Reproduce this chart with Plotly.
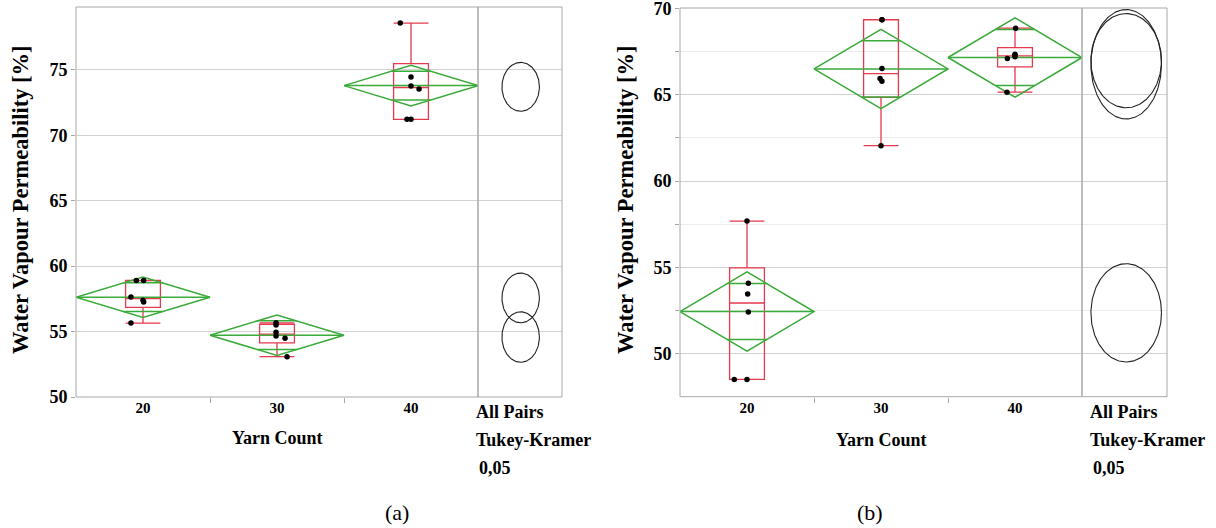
import numpy as np
import plotly.graph_objects as go

# ---------------- data ----------------
yarn_counts = [20, 30, 40]
tick_labels = ["20", "30", "40"]

# panel (a) individual observations per yarn count
a_20 = [58.9, 58.9, 57.65, 57.4, 57.25, 55.65]
a_30 = [55.67, 55.5, 54.94, 54.66, 54.48, 53.08]
a_40 = [78.57, 74.45, 73.77, 73.53, 71.22, 71.22]
# panel (b)
b_20 = [57.68, 54.07, 53.45, 52.41, 48.5, 48.5]
b_30 = [69.35, 69.35, 66.52, 65.94, 65.78, 62.05]
b_40 = [68.86, 67.35, 67.3, 67.2, 67.1, 65.15]

# 95% CI half-widths of the means (mean diamonds)
ci_half_a = [1.55, 1.55, 1.55]
ci_half_b = [2.3, 2.3, 2.3]

# Tukey-Kramer comparison circles (centre, radius)
circ_center_a = [57.57, 54.58, 73.7]
circ_radius_a = [1.9, 1.93, 1.87]
circ_center_b = [52.36, 66.77, 66.98]
circ_radius_b = [2.85, 3.17, 2.73]

# horizontal jitter of points (x units)
jit_a = [[-0.5, 0.05, -0.9, 0.0, 0.05, -0.9],
         [-0.07, -0.07, -0.07, -0.07, 0.6, 0.75],
         [-0.8, 0.0, 0.0, 0.6, -0.3, 0.0]]
jit_b = [[0.0, 0.1, 0.05, 0.1, -0.95, 0.0],
         [0.07, 0.07, 0.07, -0.07, 0.07, 0.0],
         [0.05, 0.0, 0.0, 0.0, -0.57, -0.6]]

# ---------------- style ----------------
RED = "#e5394d"
GREEN = "#3aaa3a"
GRID = "#d2d2d2"
FRAME = "#a8a8a8"
FONT = "Liberation Serif, Tinos, Times New Roman, DejaVu Serif, serif"
W, H = 1216, 528

fig = go.Figure()


def px_x(p):
    return p / W


def px_y(p):
    return 1 - p / H


def add_panel(groups, jit, ci_half, xa, ya):
    for xc, vals, jj, ch in zip(yarn_counts, groups, jit, ci_half):
        v = np.array(vals, dtype=float)
        q1, med, q3 = np.percentile(v, [25, 50, 75], method="weibull")
        iqr = q3 - q1
        inside = v[(v >= q1 - 1.5 * iqr) & (v <= q3 + 1.5 * iqr)]
        lo, hi = inside.min(), inside.max()
        fig.add_trace(go.Box(
            x=[xc], q1=[q1], median=[med], q3=[q3], lowerfence=[lo], upperfence=[hi],
            width=2.6, whiskerwidth=1, line=dict(color=RED, width=1.3),
            fillcolor="rgba(0,0,0,0)", boxpoints=False, xaxis=xa, yaxis=ya,
            showlegend=False, hoverinfo="skip"))
        mean = v.mean()
        hw = 5.0
        # diamond
        fig.add_trace(go.Scatter(
            x=[xc - hw, xc, xc + hw, xc, xc - hw],
            y=[mean, mean + ch, mean, mean - ch, mean],
            mode="lines", line=dict(color=GREEN, width=1.5),
            xaxis=xa, yaxis=ya, showlegend=False, hoverinfo="skip"))
        # mean line
        fig.add_trace(go.Scatter(
            x=[xc - hw, xc + hw], y=[mean, mean], mode="lines",
            line=dict(color=GREEN, width=1.5), xaxis=xa, yaxis=ya,
            showlegend=False, hoverinfo="skip"))
        # overlap marks
        d = ch / np.sqrt(2)
        w2 = hw * (1 - 1 / np.sqrt(2))
        for s in (1, -1):
            fig.add_trace(go.Scatter(
                x=[xc - w2, xc + w2], y=[mean + s * d, mean + s * d], mode="lines",
                line=dict(color=GREEN, width=1.5), xaxis=xa, yaxis=ya,
                showlegend=False, hoverinfo="skip"))
        # points
        fig.add_trace(go.Scatter(
            x=[xc + j for j in jj], y=vals, mode="markers",
            marker=dict(color="black", size=5.5), xaxis=xa, yaxis=ya,
            showlegend=False, hoverinfo="skip"))


def add_circles(centers, radii, rx, cx, xa, ya):
    t = np.linspace(0, 2 * np.pi, 200)
    for c, r in zip(centers, radii):
        fig.add_trace(go.Scatter(
            x=cx + rx * np.cos(t), y=c + r * np.sin(t), mode="lines",
            line=dict(color="#222222", width=1.1), xaxis=xa, yaxis=ya,
            showlegend=False, hoverinfo="skip"))


add_panel([a_20, a_30, a_40], jit_a, ci_half_a, "x", "y")
add_panel([b_20, b_30, b_40], jit_b, ci_half_b, "x3", "y2")
add_circles(circ_center_a, circ_radius_a, 0.223, 0.508, "x2", "y")
add_circles(circ_center_b, circ_radius_b, 0.415, 0.52, "x4", "y2")

tickfont = dict(family=FONT, size=18, color="black", weight="bold")
xcommon = dict(range=[15, 45], tickvals=yarn_counts, ticktext=tick_labels, ticks="",
               showgrid=False, zeroline=False, showline=False,
               tickfont=dict(family=FONT, size=15, color="black", weight="bold"),
               minor=dict(tickvals=[25, 35], ticks="outside", ticklen=5,
                          tickcolor=FRAME, showgrid=False))
fig.update_layout(
    width=W, height=H, margin=dict(l=0, r=0, t=0, b=0, autoexpand=False),
    paper_bgcolor="white", plot_bgcolor="white", showlegend=False,
    xaxis=dict(domain=[px_x(76), px_x(478)], anchor="y", **xcommon),
    xaxis2=dict(domain=[px_x(478), px_x(562)], anchor="y", range=[0, 1],
                showticklabels=False, showgrid=False, zeroline=False, ticks=""),
    xaxis3=dict(domain=[px_x(680), px_x(1082)], anchor="y2", **xcommon),
    xaxis4=dict(domain=[px_x(1082), px_x(1167)], anchor="y2", range=[0, 1],
                showticklabels=False, showgrid=False, zeroline=False, ticks=""),
    yaxis=dict(domain=[px_y(397), px_y(7)], anchor="x", range=[50, 79.8],
               tickvals=[50, 55, 60, 65, 70, 75], gridcolor=GRID, gridwidth=1,
               zeroline=False, ticks="outside", ticklen=4, tickcolor=FRAME,
               tickfont=tickfont, ticklabeloverflow="allow"),
    yaxis2=dict(domain=[px_y(396.7), px_y(8)], anchor="x3", range=[47.5, 70.03],
                tickvals=[50, 55, 60, 65, 70], gridcolor=GRID, gridwidth=1,
                zeroline=False, ticks="outside", ticklen=4, tickcolor=FRAME,
                tickfont=tickfont, ticklabeloverflow="allow",
                minor=dict(tickvals=[52.5, 57.5, 62.5, 67.5], ticks="outside",
                           ticklen=4, tickcolor=FRAME, showgrid=True,
                           gridcolor="#ececec")),
)

# frames
for xr, yr in [("x", "y"), ("x2", "y"), ("x3", "y2"), ("x4", "y2")]:
    fig.add_shape(type="rect", xref=f"{xr} domain", yref=f"{yr} domain",
                  x0=0, x1=1, y0=0, y1=1, line=dict(color=FRAME, width=1),
                  layer="above")

bold = dict(family=FONT, size=18, color="black", weight="bold")
ytitle_font = dict(family=FONT, size=22.5, color="black", weight="bold")
annots = [
    dict(text="Water Vapour Permeability [%]", x=px_x(20), y=px_y(200),
         textangle=-90, font=ytitle_font),
    dict(text="Water Vapour Permeability [%]", x=px_x(625), y=px_y(200),
         textangle=-90, font=ytitle_font),
    dict(text="Yarn Count", x=px_x(277), y=px_y(438), font=bold),
    dict(text="Yarn Count", x=px_x(881), y=px_y(440), font=bold),
    dict(text="(a)", x=px_x(397), y=px_y(512), font=dict(family=FONT, size=22, color="black")),
    dict(text="(b)", x=px_x(870), y=px_y(512), font=dict(family=FONT, size=22, color="black")),
]
for x0 in (474, 1088):
    annots += [
        dict(text="All Pairs", x=px_x(x0), y=px_y(412), xanchor="left", font=bold),
        dict(text="Tukey-Kramer", x=px_x(x0), y=px_y(440), xanchor="left", font=bold),
        dict(text="0,05", x=px_x(x0 + 3), y=px_y(468), xanchor="left", font=bold),
    ]
for a in annots:
    a.setdefault("xanchor", "center")
    fig.add_annotation(xref="paper", yref="paper", showarrow=False, yanchor="middle", **a)

fig.write_html("out.html", config={"displayModeBar": False},
               post_script="document.body.style.margin='0';document.body.style.padding='0';")
